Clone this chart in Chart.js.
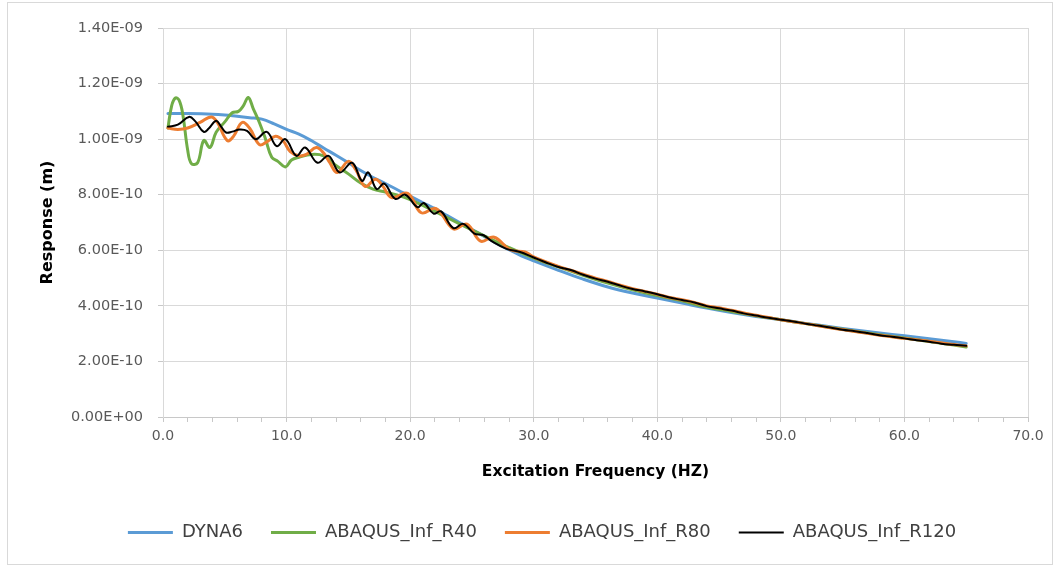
<!DOCTYPE html>
<html>
<head>
<meta charset="utf-8">
<title>Response vs Excitation Frequency</title>
<script src="https://cdn.jsdelivr.net/npm/chart.js@4.4.1/dist/chart.umd.min.js"></script>
<style>
  html, body { margin: 0; padding: 0; background: #fff; }
  #wrap { width: 1060px; height: 567px; }
</style>
</head>
<body>
<div id="wrap"><canvas id="chart" width="1060" height="567"></canvas></div>
<script>
// values (response in m, frequency in Hz)
const dynaFreq = [0.4, 2, 4, 5, 6, 7, 8, 9, 10, 11, 12, 13, 14, 15, 16, 17, 18, 19, 20, 21, 22, 23, 24, 25, 26, 27, 28, 29, 30,
    32, 34, 36, 38, 40, 42, 44, 46, 48, 50, 52, 54, 56, 58, 60, 62, 64, 65];
const dynaResp = [10.92e-10, 10.92e-10, 10.90e-10, 10.87e-10, 10.82e-10, 10.77e-10, 10.72e-10, 10.55e-10, 10.35e-10, 10.18e-10,
    9.95e-10, 9.68e-10, 9.42e-10, 9.15e-10, 8.87e-10, 8.62e-10, 8.40e-10, 8.17e-10, 7.95e-10, 7.72e-10, 7.50e-10, 7.25e-10,
    7.00e-10, 6.75e-10, 6.50e-10, 6.25e-10, 6.02e-10, 5.80e-10, 5.62e-10, 5.28e-10, 4.96e-10, 4.68e-10, 4.46e-10, 4.28e-10,
    4.10e-10, 3.92e-10, 3.76e-10, 3.62e-10, 3.50e-10, 3.37e-10, 3.25e-10, 3.13e-10, 3.02e-10, 2.92e-10, 2.82e-10, 2.71e-10, 2.65e-10];

const r40Freq = [0.4, 0.7, 1.0, 1.3, 1.6, 2.0, 2.3, 2.8, 3.3, 3.8, 4.3, 5.0, 5.6, 6.1, 6.5, 6.9, 7.3, 7.8, 8.3, 8.8, 9.3, 9.9,
    10.4, 11, 12, 13, 14, 15, 16, 17, 18, 19, 20, 22, 24, 26, 28, 30, 32, 34, 36, 38, 40, 42, 44, 46, 48, 50, 52, 54, 56, 58,
    60, 62, 64, 65];
const r40Resp = [10.40e-10, 11.20e-10, 11.48e-10, 11.40e-10, 10.90e-10, 9.60e-10, 9.12e-10, 9.15e-10, 9.95e-10, 9.70e-10,
    10.25e-10, 10.62e-10, 10.95e-10, 11.00e-10, 11.20e-10, 11.50e-10, 11.10e-10, 10.60e-10, 10.00e-10, 9.35e-10, 9.20e-10,
    9.00e-10, 9.25e-10, 9.35e-10, 9.45e-10, 9.40e-10, 9.05e-10, 8.75e-10, 8.42e-10, 8.20e-10, 8.10e-10, 7.98e-10, 7.82e-10,
    7.40e-10, 6.95e-10, 6.52e-10, 6.10e-10, 5.72e-10, 5.40e-10, 5.10e-10, 4.82e-10, 4.58e-10, 4.37e-10, 4.18e-10, 3.96e-10,
    3.80e-10, 3.64e-10, 3.50e-10, 3.36e-10, 3.22e-10, 3.09e-10, 2.96e-10, 2.84e-10, 2.72e-10, 2.59e-10, 2.52e-10];

const r80Freq = [0.4, 1.2, 2.0, 3.0, 3.9, 4.4, 5.2, 5.7, 6.4, 7.0, 7.8, 8.4, 9.1, 9.7, 10.3, 11.0, 11.6, 12.4, 13.0, 13.5, 14.1,
    15.0, 15.6, 16.35, 17.2, 17.8, 18.5, 19.8, 20.9, 22.1, 23.5, 24.6, 25.7, 26.8, 28.1, 29.3, 29.9, 31, 32, 33, 34, 35, 36,
    37, 38, 39, 40, 41, 42, 43, 44, 45, 46, 47, 48, 49, 50, 52, 54, 56, 58, 60, 62, 64, 65];
const r80Resp = [10.40e-10, 10.35e-10, 10.40e-10, 10.60e-10, 10.80e-10, 10.60e-10, 9.95e-10, 10.10e-10, 10.60e-10, 10.40e-10,
    9.80e-10, 9.90e-10, 10.10e-10, 9.95e-10, 9.55e-10, 9.40e-10, 9.45e-10, 9.70e-10, 9.50e-10, 9.15e-10, 8.80e-10, 9.20e-10,
    8.90e-10, 8.30e-10, 8.56e-10, 8.30e-10, 7.90e-10, 8.05e-10, 7.35e-10, 7.50e-10, 6.77e-10, 6.94e-10, 6.33e-10, 6.47e-10,
    6.02e-10, 5.94e-10, 5.78e-10, 5.58e-10, 5.42e-10, 5.28e-10, 5.14e-10, 5.00e-10, 4.88e-10, 4.74e-10, 4.62e-10, 4.52e-10,
    4.42e-10, 4.30e-10, 4.22e-10, 4.12e-10, 4.00e-10, 3.93e-10, 3.84e-10, 3.74e-10, 3.66e-10, 3.58e-10, 3.50e-10, 3.36e-10,
    3.21e-10, 3.08e-10, 2.94e-10, 2.83e-10, 2.73e-10, 2.61e-10, 2.56e-10];

const r120Freq = [0.4, 1.2, 2.1, 2.6, 3.3, 3.7, 4.3, 4.7, 5.1, 5.6, 6.2, 6.8, 7.5, 8.4, 9.2, 9.9, 10.8, 11.5, 12.5, 13.4, 14.3,
    15.3, 16.1, 16.6, 17.3, 17.9, 18.8, 19.6, 20.6, 21.1, 21.9, 22.5, 23.5, 24.3, 25.2, 25.9, 26.7, 27.8, 28.9, 29.9, 31, 32,
    33, 34, 35, 36, 37, 38, 39, 40, 41, 42, 43, 44, 45, 46, 47, 48, 49, 50, 51, 52, 53, 54, 55, 56, 57, 58, 59, 60, 61, 62,
    63, 64, 65];
const r120Resp = [10.45e-10, 10.52e-10, 10.80e-10, 10.65e-10, 10.26e-10, 10.38e-10, 10.66e-10, 10.45e-10, 10.24e-10, 10.27e-10,
    10.35e-10, 10.30e-10, 10.00e-10, 10.26e-10, 9.75e-10, 10.00e-10, 9.40e-10, 9.70e-10, 9.15e-10, 9.40e-10, 8.80e-10,
    9.15e-10, 8.50e-10, 8.80e-10, 8.20e-10, 8.40e-10, 7.85e-10, 8.00e-10, 7.55e-10, 7.70e-10, 7.32e-10, 7.40e-10, 6.80e-10,
    6.95e-10, 6.60e-10, 6.55e-10, 6.30e-10, 6.05e-10, 5.94e-10, 5.76e-10, 5.56e-10, 5.40e-10, 5.29e-10, 5.12e-10, 4.98e-10,
    4.87e-10, 4.73e-10, 4.61e-10, 4.52e-10, 4.42e-10, 4.30e-10, 4.21e-10, 4.12e-10, 3.99e-10, 3.91e-10, 3.83e-10, 3.73e-10,
    3.65e-10, 3.57e-10, 3.50e-10, 3.44e-10, 3.36e-10, 3.29e-10, 3.22e-10, 3.14e-10, 3.09e-10, 3.02e-10, 2.94e-10, 2.89e-10,
    2.83e-10, 2.76e-10, 2.71e-10, 2.64e-10, 2.60e-10, 2.56e-10];

const xTicks = [0, 2, 4, 6, 8, 10, 12, 14, 16, 18, 20, 22, 24, 26, 28, 30, 32, 34, 36, 38, 40, 42, 44, 46, 48, 50,
    52, 54, 56, 58, 60, 62, 64, 66, 68, 70];
const yTicks = [0, 2e-10, 4e-10, 6e-10, 8e-10, 10e-10, 12e-10, 14e-10];

const FONT = '"DejaVu Sans", sans-serif';
const LEGEND_SHIFT = 18;

function toPoints(freq, resp) {
    return freq.map((f, i) => ({ x: f, y: resp[i] }));
}

function formatSci(value) {
    // Excel style: 1.40E-09
    return value.toExponential(2).toUpperCase().replace(/E([+-])(\d)$/, 'E$10$2');
}

document.addEventListener('DOMContentLoaded', () => {
    const ctx = document.getElementById('chart').getContext('2d');

    const frame = {
        id: 'frame',
        afterInit(chart) {
            // keep a wide gap between legend items but a short legend box
            const legend = chart.legend;
            const fit = legend.fit;
            legend.fit = function () {
                fit.call(this);
                this.height = 60;
            };
            const draw = legend.draw;
            legend.draw = function () {
                chart.ctx.save();
                chart.ctx.translate(LEGEND_SHIFT, 0);
                draw.call(this);
                chart.ctx.restore();
            };
        },
        beforeDraw(chart) {
            const c = chart.ctx;
            c.save();
            c.fillStyle = '#ffffff';
            c.fillRect(0, 0, chart.width, chart.height);
            c.strokeStyle = '#d9d9d9';
            c.lineWidth = 1;
            c.strokeRect(7.5, 2.5, 1045, 562);
            c.restore();
        }
    };

    new Chart(ctx, {
        type: 'line',
        data: {
            datasets: [
                { label: 'DYNA6', data: toPoints(dynaFreq, dynaResp), borderColor: '#5b9bd5', borderWidth: 3, order: 3 },
                { label: 'ABAQUS_Inf_R40', data: toPoints(r40Freq, r40Resp), borderColor: '#70ad47', borderWidth: 3, order: 2 },
                { label: 'ABAQUS_Inf_R80', data: toPoints(r80Freq, r80Resp), borderColor: '#ed7d31', borderWidth: 3, order: 1 },
                { label: 'ABAQUS_Inf_R120', data: toPoints(r120Freq, r120Resp), borderColor: '#000000', borderWidth: 2, order: 0 }
            ]
        },
        options: {
            responsive: false,
            animation: false,
            devicePixelRatio: 1,
            elements: {
                point: { radius: 0 },
                line: { tension: 0.4, fill: false, borderCapStyle: 'round', borderJoinStyle: 'round' }
            },
            layout: { padding: { left: 20, top: 28, right: 32, bottom: 11.5 } },
            plugins: {
                tooltip: { enabled: false },
                legend: {
                    position: 'bottom',
                    labels: {
                        usePointStyle: true,
                        pointStyle: 'line',
                        pointStyleWidth: 45,
                        padding: 28,
                        color: '#404040',
                        font: { family: FONT, size: 18 },
                        sort: (a, b) => a.datasetIndex - b.datasetIndex
                    }
                }
            },
            scales: {
                x: {
                    type: 'linear',
                    min: 0,
                    max: 70,
                    afterBuildTicks: scale => { scale.ticks = xTicks.map(v => ({ value: v })); },
                    afterFit: scale => { scale.height = 78.5; },
                    ticks: {
                        autoSkip: false,
                        maxRotation: 0,
                        padding: 5.6,
                        color: '#595959',
                        font: { family: FONT, size: 14 },
                        callback: value => (value % 10 === 0 ? value.toFixed(1) : '')
                    },
                    grid: {
                        color: c => (c.tick && c.tick.value % 10 === 0 ? '#d9d9d9' : 'rgba(0,0,0,0)'),
                        tickColor: '#c8c8c8',
                        tickLength: 5
                    },
                    border: { color: '#c8c8c8' },
                    title: {
                        display: true,
                        text: 'Excitation Frequency (HZ)',
                        color: '#000000',
                        font: { family: FONT, size: 15.5, weight: 'bold' },
                        padding: { top: 0, bottom: 14.2 }
                    }
                },
                y: {
                    min: 0,
                    max: 14e-10,
                    afterBuildTicks: scale => { scale.ticks = yTicks.map(v => ({ value: v })); },
                    afterFit: scale => { scale.width = 143; },
                    ticks: {
                        padding: 15,
                        color: '#595959',
                        font: { family: FONT, size: 14.5 },
                        callback: value => formatSci(value)
                    },
                    grid: { color: '#d9d9d9', tickColor: '#c8c8c8', tickLength: 5 },
                    border: { color: '#d9d9d9' },
                    title: {
                        display: true,
                        text: 'Response (m)',
                        color: '#000000',
                        font: { family: FONT, size: 16, weight: 'bold' },
                        padding: { top: 18.4, bottom: 0 }
                    }
                }
            }
        },
        plugins: [frame]
    });
});
</script>
</body>
</html>
